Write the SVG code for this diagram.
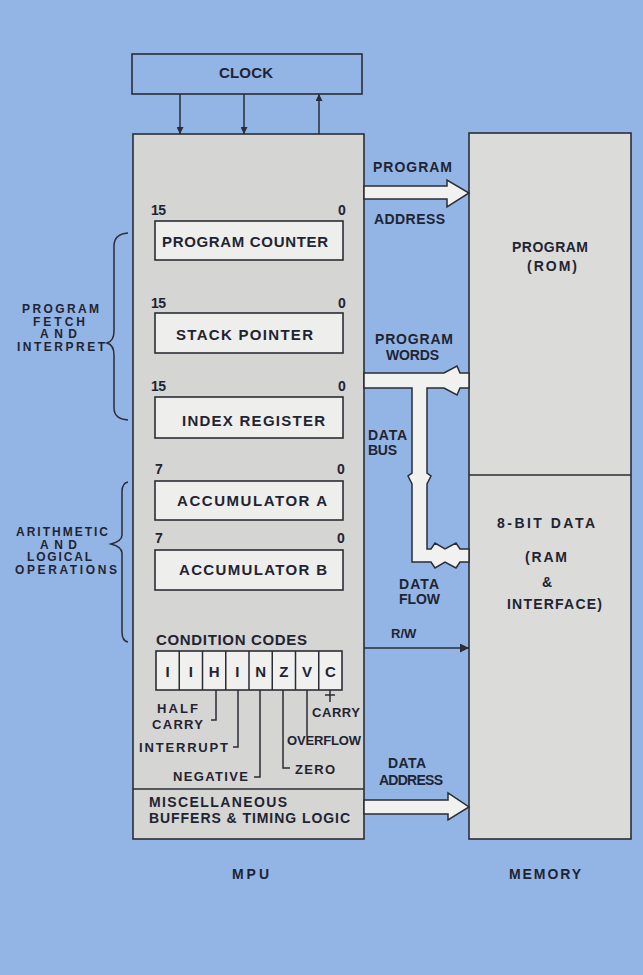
<svg xmlns="http://www.w3.org/2000/svg" width="643" height="975" viewBox="0 0 643 975">
<defs>
<style>
.t{font-family:"Liberation Sans",Arial,sans-serif;fill:#1f2433;font-weight:bold;}
.f15{font-size:15px;}
.f14{font-size:14px;}
.f13{font-size:13px;}
.f12{font-size:12px;}
.c{text-anchor:middle;}
.box{stroke:#2b2d36;stroke-width:1.6;}
.ln{stroke:#2b2d36;stroke-width:1.5;fill:none;}
.bus{fill:#f1f1ef;stroke:#2b2d36;stroke-width:1.5;stroke-linejoin:miter;}
</style>
<marker id="ah" viewBox="0 0 10 10" refX="10" refY="5" markerWidth="7" markerHeight="7" markerUnits="userSpaceOnUse" orient="auto">
<path d="M0,0 L10,5 L0,10 z" fill="#2b2d36"/>
</marker>
<marker id="ahr" viewBox="0 0 10 10" refX="10" refY="5" markerWidth="10" markerHeight="9" markerUnits="userSpaceOnUse" orient="auto">
<path d="M0,0 L10,5 L0,10 z" fill="#2b2d36"/>
</marker>
</defs>
<rect x="0" y="0" width="643" height="975" fill="#93b5e5"/>

<g id="clock">
<rect class="box" x="132" y="54" width="230" height="40" fill="#93b5e5"/>
<text class="t f15" x="219" y="78" textLength="54">CLOCK</text>
</g>

<g id="mpu">
<rect class="box" x="133" y="134" width="231" height="705" fill="#d5d5d3"/>
<line class="ln" x1="133" y1="789" x2="364" y2="789"/>
<text class="t f14" x="232" y="879" textLength="37">MPU</text>
</g>

<g id="program-counter">
<text class="t f14" x="151" y="215" textLength="15">15</text>
<text class="t f14" x="338" y="215" textLength="10">0</text>
<rect class="box" x="155" y="221" width="188" height="39" fill="#eeeeec"/>
<text class="t f15" x="162" y="247" textLength="166">PROGRAM COUNTER</text>
</g>

<g id="stack-pointer">
<text class="t f14" x="151" y="308" textLength="15">15</text>
<text class="t f14" x="338" y="308" textLength="10">0</text>
<rect class="box" x="155" y="313" width="188" height="40" fill="#eeeeec"/>
<text class="t f15" x="176" y="340" textLength="137">STACK POINTER</text>
</g>

<g id="index-register">
<text class="t f14" x="151" y="391" textLength="15">15</text>
<text class="t f14" x="338" y="391" textLength="10">0</text>
<rect class="box" x="155" y="397" width="188" height="41" fill="#eeeeec"/>
<text class="t f15" x="182" y="426" textLength="143">INDEX REGISTER</text>
</g>

<g id="accumulator-a">
<text class="t f14" x="155" y="474" textLength="8">7</text>
<text class="t f14" x="337" y="474" textLength="10">0</text>
<rect class="box" x="155" y="481" width="188" height="39" fill="#eeeeec"/>
<text class="t f15" x="177" y="506" textLength="150">ACCUMULATOR A</text>
</g>

<g id="accumulator-b">
<text class="t f14" x="155" y="543" textLength="8">7</text>
<text class="t f14" x="337" y="543" textLength="10">0</text>
<rect class="box" x="155" y="550" width="188" height="40" fill="#eeeeec"/>
<text class="t f15" x="179" y="575" textLength="148">ACCUMULATOR B</text>
</g>

<g id="condition-codes">
<text class="t f15" x="156" y="645" textLength="151">CONDITION CODES</text>
<rect class="box" x="156" y="651" width="186" height="39" fill="#f0f0ee"/>
<line class="ln" x1="179.25" y1="651" x2="179.25" y2="690"/>
<line class="ln" x1="202.5" y1="651" x2="202.5" y2="690"/>
<line class="ln" x1="225.75" y1="651" x2="225.75" y2="690"/>
<line class="ln" x1="249" y1="651" x2="249" y2="690"/>
<line class="ln" x1="272.25" y1="651" x2="272.25" y2="690"/>
<line class="ln" x1="295.5" y1="651" x2="295.5" y2="690"/>
<line class="ln" x1="318.75" y1="651" x2="318.75" y2="690"/>
<text class="t f15 c" x="167.6" y="677">I</text>
<text class="t f15 c" x="190.9" y="677">I</text>
<text class="t f15 c" x="214.1" y="677">H</text>
<text class="t f15 c" x="237.4" y="677">I</text>
<text class="t f15 c" x="260.6" y="677">N</text>
<text class="t f15 c" x="283.9" y="677">Z</text>
<text class="t f15 c" x="307.1" y="677">V</text>
<text class="t f15 c" x="330.4" y="677">C</text>
<path class="ln" d="M216,690 V720 H211"/>
<path class="ln" d="M238,690 V747 H233"/>
<path class="ln" d="M260,690 V777 H254"/>
<path class="ln" d="M283,690 V768 H290"/>
<path class="ln" d="M307,690 V736"/>
<path class="ln" d="M330,690 V702 M325,695 H335"/>
<text class="t f13" x="157" y="713" textLength="41">HALF</text>
<text class="t f13" x="152" y="729" textLength="51">CARRY</text>
<text class="t f13" x="139" y="752" textLength="89">INTERRUPT</text>
<text class="t f13" x="173" y="781" textLength="75">NEGATIVE</text>
<text class="t f13" x="295" y="774" textLength="40">ZERO</text>
<text class="t f13" x="287" y="745" textLength="74">OVERFLOW</text>
<text class="t f13" x="312" y="717" textLength="48">CARRY</text>
</g>

<g id="misc-buffers">
<text class="t f14" x="149" y="807" textLength="138">MISCELLANEOUS</text>
<text class="t f14" x="149" y="823" textLength="201">BUFFERS &amp; TIMING LOGIC</text>
</g>

<g id="memory">
<rect class="box" x="469" y="133" width="162" height="706" fill="#dbdbd9"/>
<line class="ln" x1="469" y1="475" x2="631" y2="475"/>
<text class="t f14" x="509" y="879" textLength="72">MEMORY</text>
</g>

<g id="program-rom">
<text class="t f14" x="512" y="252" textLength="76">PROGRAM</text>
<text class="t f14" x="527" y="271" textLength="50">(ROM)</text>
</g>

<g id="data-ram">
<text class="t f14" x="497" y="528" textLength="98">8-BIT DATA</text>
<text class="t f14" x="525" y="562" textLength="42">(RAM</text>
<text class="t f14" x="542" y="587" textLength="10">&amp;</text>
<text class="t f14" x="507" y="609" textLength="95">INTERFACE)</text>
</g>

<g id="fetch-brace">
<path class="ln" d="M128,233 Q114,234 114,246 L114,331 Q114,341 107,343 Q114,345 114,355 L114,408 Q114,419 128,420"/>
<text class="t f12" x="22" y="313" textLength="77">PROGRAM</text>
<text class="t f12" x="33" y="325.5" textLength="52">FETCH</text>
<text class="t f12" x="40" y="338" textLength="37">AND</text>
<text class="t f12" x="17" y="350.5" textLength="88">INTERPRET</text>
</g>

<g id="arith-brace">
<path class="ln" d="M128,482 Q122,483 122,492 L122,535 Q122,541 111,544 Q122,547 122,553 L122,632 Q122,641 128,642"/>
<text class="t f12" x="16" y="536" textLength="92">ARITHMETIC</text>
<text class="t f12" x="40" y="548.5" textLength="37">AND</text>
<text class="t f12" x="27" y="561" textLength="65">LOGICAL</text>
<text class="t f12" x="15" y="573.5" textLength="102">OPERATIONS</text>
</g>

<g id="connectors">
<line class="ln" x1="180" y1="94" x2="180" y2="134" marker-end="url(#ah)"/>
<line class="ln" x1="244" y1="94" x2="244" y2="134" marker-end="url(#ah)"/>
<line class="ln" x1="319" y1="134" x2="319" y2="94" marker-end="url(#ah)"/>

<polygon class="bus" points="364,186 447,186 447,180 469,193 447,207 447,199 364,199"/>
<text class="t f14" x="373" y="172" textLength="79">PROGRAM</text>
<text class="t f14" x="374" y="224" textLength="71">ADDRESS</text>

<polygon class="bus" points="364,373 444,373 457,366 460,373 469,373 469,388 460,388 457,395 444,388 427,388 427,473 431,476 427,484 427,549 431,549 435,543 445,549 456,543 460,549 469,549 469,562 460,562 456,568 445,562 435,568 431,562 412,562 412,484 408,476 412,473 412,388 364,388"/>
<text class="t f14" x="375" y="344" textLength="78">PROGRAM</text>
<text class="t f14" x="386" y="360" textLength="53">WORDS</text>
<text class="t f14" x="368" y="440" textLength="39">DATA</text>
<text class="t f14" x="368" y="455" textLength="29">BUS</text>
<text class="t f14" x="399" y="589" textLength="40">DATA</text>
<text class="t f14" x="399" y="604" textLength="41">FLOW</text>

<line class="ln" x1="364" y1="648" x2="469" y2="648" marker-end="url(#ahr)"/>
<text class="t f13" x="391" y="638">R/W</text>

<polygon class="bus" points="364,800 448,800 448,793 469,807 448,820 448,814 364,814"/>
<text class="t f14" x="388" y="768" textLength="38">DATA</text>
<text class="t f14" x="379" y="785" textLength="64">ADDRESS</text>
</g>
</svg>
